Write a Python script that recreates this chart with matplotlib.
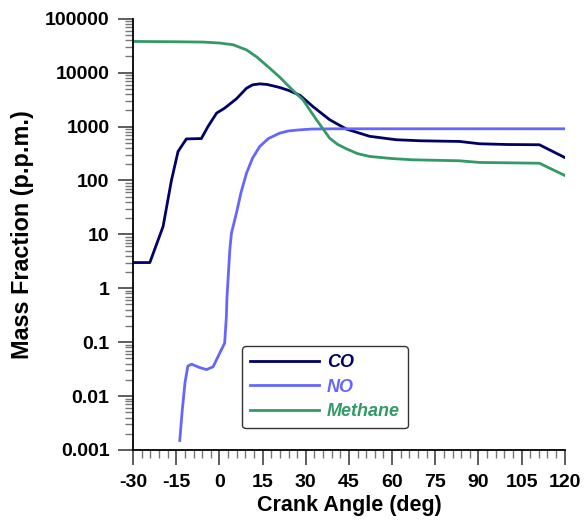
import matplotlib
matplotlib.use("Agg")
import matplotlib.pyplot as plt
from matplotlib.ticker import FixedLocator, LogLocator, NullFormatter, FuncFormatter

plt.rcParams['font.family'] = ['Liberation Sans', 'DejaVu Sans']
plt.rcParams['font.weight'] = 'bold'
plt.rcParams['axes.unicode_minus'] = False

co_x = [-30, -24.2, -19.6, -16.7, -14.4, -11.5, -6.3, -4, -1, 1.8, 5.9, 9.4, 11.5, 14, 16.5, 18.6,
        21, 24, 28, 32.5, 38.3, 44.1, 52.2, 61.4, 70, 83.4, 90.4, 100, 111.2, 120]
co_y = [3, 3, 14, 100, 345, 590, 600, 1000, 1780, 2200, 3280, 5150, 5950, 6200, 6050, 5700,
        5300, 4700, 3800, 2350, 1340, 900, 660, 570, 545, 530, 480, 465, 460, 267]

no_x = [-13.8, -13, -12, -11, -9.7, -7, -4.5, -2.2, 0.1, 1.8, 2.4, 2.6, 3.6, 4.15, 5.9, 7.5, 9.4,
        11.5, 14, 17, 20.9, 24, 27.9, 32, 40, 120]
no_y = [0.0015, 0.005, 0.0174, 0.036, 0.039, 0.034, 0.031, 0.035, 0.063, 0.096, 0.3, 0.66, 5.2,
        10.5, 25, 60, 137, 260, 428, 600, 755, 830, 870, 900, 910, 910]

ch4_x = [-30, -15, -5.7, 0, 4.7, 9.4, 13, 17.4, 20.9, 25, 29, 33.7, 38.3, 41, 44.1, 48, 52.2, 60,
         67.2, 83.4, 90.4, 111.2, 120]
ch4_y = [38000, 37500, 37000, 35500, 33000, 26500, 19500, 12200, 8300, 5000, 3140, 1340, 610, 470,
         387, 315, 279, 255, 242, 232, 216, 209, 124]

x_ticks = [-30, -15, 0, 15, 30, 45, 60, 75, 90, 105, 120]
y_ticks = [0.001, 0.01, 0.1, 1, 10, 100, 1000, 10000, 100000]

fig = plt.figure(figsize=(5.84, 5.22), dpi=100)
ax = fig.add_axes([0.228, 0.138, 0.739, 0.826])

ax.plot(co_x, co_y, color='#000066', lw=2.0, label='CO')
ax.plot(no_x, no_y, color='#6666ff', lw=2.0, label='NO')
ax.plot(ch4_x, ch4_y, color='#339966', lw=2.0, label='Methane')

ax.set_yscale('log')
ax.set_xlim(-30, 120)
ax.set_ylim(0.001, 100000)

ax.xaxis.set_major_locator(FixedLocator(x_ticks))
ax.xaxis.set_minor_locator(FixedLocator([v for v in range(-30, 121, 3) if v % 15]))
ax.yaxis.set_major_locator(FixedLocator(y_ticks))
ax.yaxis.set_minor_locator(LogLocator(base=10, subs=range(2, 10), numticks=20))
ax.yaxis.set_minor_formatter(NullFormatter())
ax.yaxis.set_major_formatter(FuncFormatter(lambda v, p: ('%g' % v) if v < 1 else '%d' % v))

for s in ['top', 'right']:
    ax.spines[s].set_visible(False)
for s in ['left', 'bottom']:
    ax.spines[s].set_linewidth(1.3)

ax.tick_params(which='major', direction='out', length=11, width=1.1, color='#333333',
               labelsize=14, pad=6)
ax.tick_params(which='minor', direction='out', length=6, width=1.0, color='#777777')

ax.set_xlabel('Crank Angle (deg)', fontsize=15.5, fontweight='bold', labelpad=3)
ax.set_ylabel('Mass Fraction (p.p.m.)', fontsize=16.8, fontweight='bold', labelpad=8)

leg = ax.legend(loc='upper left', bbox_to_anchor=(242 / 584, 1 - 346 / 522),
                bbox_transform=fig.transFigure, borderaxespad=0, borderpad=0.45,
                handlelength=3.8, handletextpad=0.45, labelspacing=0.42,
                fancybox=True, framealpha=1, edgecolor='#333333',
                prop={'size': 13, 'style': 'italic', 'weight': 'bold'})
leg.get_frame().set_linewidth(1.0)
for txt, line in zip(leg.get_texts(), leg.get_lines()):
    txt.set_color(line.get_color())

fig.savefig('out.png', dpi=100)
